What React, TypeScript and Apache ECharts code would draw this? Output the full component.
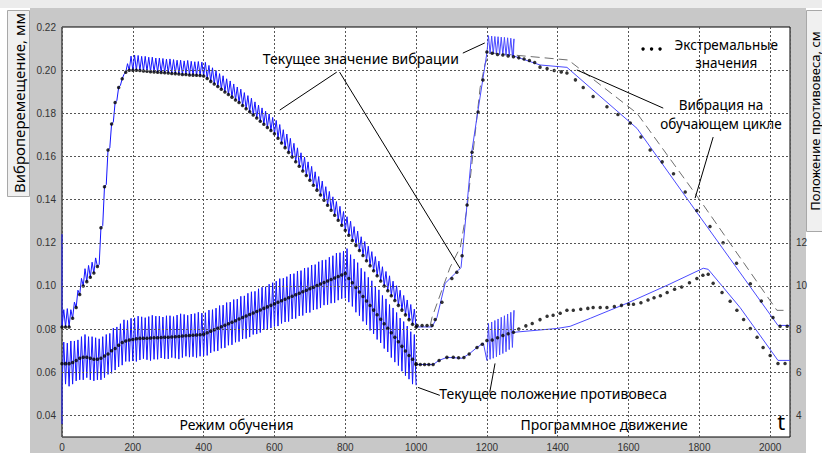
import React, { useEffect, useRef } from "react";
import * as echarts from "echarts";

// ---------- data ----------
const TRAIN_STEP = 10; // time step of one oscillation cycle in training mode
const X_MAX = 2056;

// training mode (0..1000): extreme (minimum) values of vibration, mm
const upperDots = [
  0.081, 0.081, 0.081, 0.085, 0.09, 0.096, 0.1, 0.102, 0.104, 0.106,
  0.109, 0.127, 0.146, 0.163, 0.175, 0.185, 0.192, 0.196, 0.199, 0.2,
  0.2, 0.2, 0.1998, 0.1996, 0.1995, 0.1993, 0.1992, 0.199, 0.1989, 0.1988,
  0.1987, 0.1985, 0.1984, 0.1982, 0.198, 0.198, 0.1978, 0.1977, 0.1976, 0.1975,
  0.1973, 0.1961, 0.1948, 0.1936, 0.1924, 0.1912, 0.1899, 0.1887, 0.1875, 0.1862,
  0.185, 0.1836, 0.1821, 0.1807, 0.1792, 0.1778, 0.1763, 0.1749, 0.1734, 0.172,
  0.1705, 0.1684, 0.1662, 0.1641, 0.1619, 0.1598, 0.1576, 0.1555, 0.1533, 0.1512,
  0.149, 0.1467, 0.1444, 0.1421, 0.1397, 0.1374, 0.1351, 0.1328, 0.1304, 0.1281,
  0.1258, 0.1235, 0.1211, 0.1188, 0.1164, 0.1141, 0.1117, 0.1094, 0.107, 0.1047,
  0.1023, 0.1, 0.0978, 0.0955, 0.0933, 0.091, 0.0888, 0.0866, 0.0844, 0.0822,
  0.081,
];
// peak-to-peak swing of each vibration cycle, mm
const upperSwing = [
  0.008, 0.0085, 0.008, 0.0075, 0.008, 0.0075, 0.008, 0.0075, 0.007, 0.007,
  0.001, 0.001, 0.001, 0.001, 0.001, 0.001, 0.001, 0.002, 0.004, 0.0065,
  0.007, 0.0068, 0.0066, 0.0068, 0.0065, 0.0067, 0.0064, 0.0066, 0.0065, 0.0063,
  0.0065, 0.0064, 0.0062, 0.0064, 0.0063, 0.0065, 0.0063, 0.0062, 0.0064, 0.0062,
  0.0063, 0.0061, 0.0063, 0.0062, 0.006, 0.0062, 0.0061, 0.0063, 0.0061, 0.006,
  0.0062, 0.006, 0.0061, 0.0063, 0.0061, 0.006, 0.0062, 0.0061, 0.0063, 0.0061,
  0.0062, 0.0064, 0.0062, 0.0063, 0.0065, 0.0063, 0.0064, 0.0062, 0.0064, 0.0063,
  0.0064, 0.0062, 0.0063, 0.0065, 0.0063, 0.0064, 0.0062, 0.0063, 0.0065, 0.0064,
  0.0063, 0.0065, 0.0064, 0.0066, 0.0064, 0.0065, 0.0067, 0.0065, 0.0066, 0.0068,
  0.0066, 0.0067, 0.0069, 0.0067, 0.0068, 0.007, 0.0068, 0.0069, 0.007, 0.0071,
];
const UPPER_START_SPIKE = 0.124;

// training mode: counterweight position (centre of oscillation), cm
const lowerDots = [
  6.4, 6.4, 6.4, 6.45, 6.55, 6.65, 6.7, 6.7, 6.65, 6.6,
  6.6, 6.65, 6.75, 6.85, 7.0, 7.1, 7.25, 7.38, 7.45, 7.5,
  7.52, 7.55, 7.57, 7.58, 7.58, 7.59, 7.6, 7.6, 7.61, 7.62,
  7.62, 7.63, 7.65, 7.66, 7.68, 7.69, 7.7, 7.72, 7.73, 7.74,
  7.76, 7.83, 7.9, 7.97, 8.04, 8.11, 8.18, 8.25, 8.32, 8.39,
  8.47, 8.54, 8.61, 8.68, 8.75, 8.82, 8.89, 8.96, 9.03, 9.1,
  9.17, 9.24, 9.31, 9.38, 9.45, 9.52, 9.59, 9.66, 9.73, 9.8,
  9.87, 9.94, 10.02, 10.09, 10.16, 10.23, 10.3, 10.37, 10.44, 10.51,
  10.58, 10.35, 10.15, 9.93, 9.72, 9.51, 9.3, 9.09, 8.88, 8.67,
  8.46, 8.25, 8.04, 7.83, 7.62, 7.41, 7.2, 6.99, 6.78, 6.6,
  6.4,
];
// half-swing of each counterweight oscillation, cm
const lowerSwing = [
  1.0, 0.95, 1.05, 1.0, 0.95, 1.0, 1.05, 0.95, 1.0, 1.0,
  0.95, 1.0, 1.0, 0.95, 1.05, 1.0, 1.0, 1.05, 0.95, 1.0,
  1.0, 1.05, 1.0, 0.95, 1.0, 1.05, 1.0, 1.0, 0.95, 1.0,
  1.0, 0.95, 1.0, 1.05, 1.0, 0.95, 1.0, 1.0, 1.05, 1.0,
  1.0, 1.05, 1.0, 1.0, 1.05, 1.0, 1.05, 1.0, 1.05, 1.0,
  1.05, 1.0, 1.05, 1.05, 1.0, 1.05, 1.05, 1.0, 1.05, 1.05,
  1.05, 1.1, 1.05, 1.05, 1.1, 1.05, 1.1, 1.05, 1.1, 1.05,
  1.1, 1.05, 1.1, 1.1, 1.05, 1.1, 1.1, 1.15, 1.1, 1.1,
  1.15, 1.1, 1.1, 1.15, 1.1, 1.15, 1.1, 1.15, 1.1, 1.15,
  1.1, 1.15, 1.1, 1.15, 1.15, 1.1, 1.15, 1.15, 1.1, 1.15,
];
const LOWER_START_SPIKE = 3.6;
const LOWER_END_SPIKE = 5.4;

// programmed motion (1000..2056)
const progUpperRise = [
  [1000, 0.081], [1045, 0.081], [1059, 0.0854], [1082, 0.1012], [1119, 0.1072],
  [1127, 0.1086], [1144, 0.138], [1158, 0.163], [1175, 0.1815], [1189, 0.1963],
];
const burstT = [1200, 1209, 1218, 1227, 1236, 1245, 1254, 1263, 1272];
const BURST_HALF = 4.5;
const upperBurstLow = [0.208, 0.2078, 0.2076, 0.2074, 0.2072, 0.207, 0.2068, 0.2066, 0.2064];
const upperBurstHigh = [0.216, 0.2158, 0.2156, 0.2155, 0.2153, 0.2152, 0.215, 0.2148, 0.2145];
const progUpperTail = [
  [1275, 0.2066], [1350, 0.2024], [1426, 0.2013], [1624, 0.173],
  [1802, 0.132], [2022, 0.0817], [2056, 0.0817],
];
const progUpperDots = [
  [1003, 0.0817], [1017, 0.0817], [1031, 0.0817], [1045, 0.0817], [1054, 0.0845],
  [1073, 0.0924], [1101, 0.1035], [1115, 0.1063], [1130, 0.114], [1144, 0.1375],
  [1158, 0.162], [1175, 0.1806], [1189, 0.1954], [1200, 0.2084], [1215, 0.2078],
  [1230, 0.2073], [1245, 0.207], [1260, 0.2066], [1275, 0.2062], [1290, 0.2057],
  [1305, 0.2052], [1320, 0.2045], [1335, 0.2035], [1350, 0.2014], [1370, 0.2008],
  [1390, 0.1998], [1410, 0.1992], [1426, 0.1987], [1450, 0.1955], [1472, 0.192],
  [1500, 0.1878], [1539, 0.183], [1570, 0.1795], [1605, 0.1755], [1635, 0.169],
  [1661, 0.163], [1695, 0.1575], [1727, 0.152], [1760, 0.1435], [1793, 0.135],
  [1830, 0.1275], [1867, 0.12], [1905, 0.1105], [1944, 0.101], [1975, 0.093],
  [2008, 0.0854], [2028, 0.0813], [2048, 0.0813],
];
// vibration recorded on the training cycle (dashed), mm
const trainingCycle = [
  [1040, 0.0817], [1045, 0.0854], [1096, 0.1086], [1125, 0.118], [1144, 0.136],
  [1165, 0.168], [1181, 0.192], [1195, 0.203], [1209, 0.208], [1430, 0.2047],
  [1624, 0.18], [1802, 0.1397], [2019, 0.0887], [2052, 0.0887],
];

const progLowerRise = [
  [1000, 6.36], [1048, 6.36], [1065, 6.55], [1087, 6.69], [1130, 6.65],
  [1150, 6.85], [1172, 7.15], [1190, 7.35],
];
const lowerBurstLow = [6.55, 6.6, 6.65, 6.72, 6.8, 6.87, 6.95, 7.05, 7.15];
const lowerBurstHigh = [8.26, 8.33, 8.4, 8.47, 8.55, 8.62, 8.7, 8.78, 8.87];
const progLowerTail = [
  [1275, 7.85], [1398, 8.03], [1435, 8.13], [1492, 8.5], [1596, 9.2],
  [1709, 10.03], [1811, 10.82], [1825, 10.77], [1915, 9.0], [2022, 6.55], [2056, 6.55],
];
const progLowerDots = [
  [1000, 6.36], [1012, 6.36], [1024, 6.36], [1036, 6.36], [1048, 6.36],
  [1065, 6.55], [1087, 6.69], [1105, 6.7], [1120, 6.67], [1135, 6.68],
  [1150, 6.85], [1172, 7.15], [1187, 7.3], [1200, 7.47], [1215, 7.5],
  [1230, 7.6], [1245, 7.7], [1260, 7.78], [1275, 7.85], [1290, 8.0],
  [1310, 8.15], [1328, 8.26], [1350, 8.44], [1370, 8.6], [1387, 8.64],
  [1407, 8.73], [1426, 8.87], [1444, 8.87], [1465, 8.92], [1485, 8.96],
  [1500, 9.0], [1520, 9.0], [1539, 9.0], [1560, 9.05], [1580, 9.1],
  [1600, 9.15], [1614, 9.15], [1635, 9.22], [1655, 9.35], [1672, 9.45],
  [1690, 9.55], [1709, 9.7], [1730, 9.85], [1750, 9.95], [1772, 10.15],
  [1793, 10.35], [1810, 10.5], [1825, 10.54], [1839, 10.12], [1864, 9.7],
  [1887, 9.29], [1906, 8.87], [1925, 8.45], [1944, 8.03], [1963, 7.62],
  [1980, 7.15], [2000, 6.78], [2022, 6.41], [2042, 6.41],
];

// axes
const Y_MIN = 0.03;
const Y_MAX = 0.22;
const yGrid = [0.04, 0.06, 0.08, 0.1, 0.12, 0.14, 0.16, 0.18, 0.2];

// annotations, in data units (t, mm)
const annotationLines = [
  [776, 0.1991, 615, 0.1815],
  [784, 0.1991, 1124, 0.1082],
  [1132, 0.2079, 1194, 0.2126],
  [1067, 0.0493, 1005, 0.053],
  [1208, 0.0507, 1223, 0.0641],
  [1698, 0.1824, 1454, 0.2001],
  [1839, 0.169, 1788, 0.1407],
];
const annotationTexts: [string, number, number, number][] = [
  ["Текущее значение вибрации", 844, 0.2056, 14],
  ["Текущее положение противовеса", 1387, 0.0502, 14],
  ["Экстремальные\nзначения", 1876, 0.2075, 13.5],
  ["Вибрация на\nобучающем цикле", 1861, 0.1794, 13.5],
  ["Режим обучения", 493, 0.0358, 14],
  ["Программное движение", 1531, 0.0358, 14],
  ["t", 2031, 0.0372, 22],
];
const legendDots = [1641, 1665, 1689];
const LEGEND_DOT_Y = 0.2098;

// ---------- build tables ----------
function buildUpperBand() {
  const d: number[][] = [[0, UPPER_START_SPIKE]];
  for (let i = 0; i < upperSwing.length; i++) {
    const t = i * TRAIN_STEP;
    d.push([t, upperDots[i]]);
    d.push([t + TRAIN_STEP / 2, upperDots[i] + upperSwing[i]]);
  }
  d.push([upperSwing.length * TRAIN_STEP, upperDots[upperDots.length - 1]]);
  return d;
}
function buildLowerBand() {
  const d: number[][] = [[0, LOWER_START_SPIKE]];
  for (let i = 0; i < lowerSwing.length; i++) {
    const t = i * TRAIN_STEP;
    d.push([t, lowerDots[i] - lowerSwing[i]]);
    d.push([t + TRAIN_STEP / 2, lowerDots[i] + lowerSwing[i]]);
  }
  d.push([lowerSwing.length * TRAIN_STEP, LOWER_END_SPIKE]);
  return d;
}
function buildProg(rise: number[][], lows: number[], highs: number[], tail: number[][]) {
  const d: number[][] = rise.map((p) => [p[0], p[1]]);
  burstT.forEach((t, i) => {
    d.push([t, lows[i]]);
    d.push([t + BURST_HALF, highs[i]]);
  });
  tail.forEach((p) => d.push([p[0], p[1]]));
  return d;
}
const trainDots = (arr: number[]) => arr.map((v, i) => [i * TRAIN_STEP, v]);

const FONT = '"Noto Sans", "DejaVu Sans", sans-serif';
const TICK_FONT = '"Liberation Sans", Arial, sans-serif';

export default function App() {
  const ref = useRef<HTMLDivElement>(null);
  useEffect(() => {
    if (!ref.current) return;
    const chart = echarts.init(ref.current, undefined, { renderer: "svg" });
    const option: any = {
      animation: false,
      backgroundColor: "#c8c8c8",
      grid: {
        left: 62,
        right: 32,
        top: 27,
        bottom: 16,
        show: true,
        backgroundColor: "#ffffff",
        borderColor: "#000000",
        borderWidth: 1,
      },
      xAxis: {
        type: "value",
        min: 0,
        max: X_MAX,
        interval: 200,
        axisLine: { show: false },
        axisTick: { show: false },
        axisLabel: {
          fontSize: 10,
          color: "#333",
          fontFamily: TICK_FONT,
          margin: 5,
          formatter: (v: number) => (Math.round(v) % 200 === 0 && v <= 2000 ? String(Math.round(v)) : ""),
        },
        splitLine: { show: true, lineStyle: { color: "#555", type: [2, 2], width: 1 } },
      },
      yAxis: [
        {
          type: "value",
          min: Y_MIN,
          max: Y_MAX,
          interval: 0.01,
          axisLine: { show: false },
          axisTick: { show: false },
          splitLine: { show: false },
          axisLabel: {
            fontSize: 10,
            color: "#333",
            fontFamily: TICK_FONT,
            margin: 6,
            formatter: (v: number) => {
              const k = Math.round(v * 100);
              return k % 2 === 0 && k >= 4 ? (k / 100).toFixed(2) : "";
            },
          },
        },
        {
          type: "value",
          min: Y_MIN * 100,
          max: Y_MAX * 100,
          interval: 1,
          position: "right",
          axisLine: { show: false },
          axisTick: { show: false },
          splitLine: { show: false },
          axisLabel: {
            fontSize: 10,
            color: "#333",
            fontFamily: TICK_FONT,
            margin: 6,
            formatter: (v: number) => {
              const k = Math.round(v);
              return k % 2 === 0 && k >= 4 && k <= 12 ? String(k) : "";
            },
          },
        },
      ],
      series: [
        {
          type: "line",
          data: [],
          silent: true,
          markLine: {
            silent: true,
            symbol: ["none", "none"],
            label: { show: false },
            lineStyle: { color: "#555", type: [2, 2], width: 1 },
            data: yGrid.map((v) => ({ yAxis: v })),
          },
        },
        {
          type: "line",
          data: trainingCycle,
          yAxisIndex: 0,
          showSymbol: false,
          symbol: "none",
          lineStyle: { color: "#6e6e6e", width: 1, type: [9, 5] },
          z: 3,
        },
        {
          type: "line",
          data: buildUpperBand(),
          yAxisIndex: 0,
          showSymbol: false,
          symbol: "none",
          lineStyle: { color: "#1414ff", width: 1 },
          z: 3,
        },
        {
          type: "line",
          data: buildLowerBand(),
          yAxisIndex: 1,
          showSymbol: false,
          symbol: "none",
          lineStyle: { color: "#1414ff", width: 1 },
          z: 3,
        },
        {
          type: "line",
          data: buildProg(progUpperRise, upperBurstLow, upperBurstHigh, progUpperTail),
          yAxisIndex: 0,
          showSymbol: false,
          symbol: "none",
          lineStyle: { color: "#4a4aff", width: 1 },
          z: 3,
        },
        {
          type: "line",
          data: buildProg(progLowerRise, lowerBurstLow, lowerBurstHigh, progLowerTail),
          yAxisIndex: 1,
          showSymbol: false,
          symbol: "none",
          lineStyle: { color: "#4a4aff", width: 1 },
          z: 3,
        },
        {
          type: "scatter",
          data: trainDots(upperDots).concat(progUpperDots),
          yAxisIndex: 0,
          symbol: "circle",
          symbolSize: 3.5,
          itemStyle: { color: "#000" },
          z: 4,
        },
        {
          type: "scatter",
          data: trainDots(lowerDots).concat(progLowerDots),
          yAxisIndex: 1,
          symbol: "circle",
          symbolSize: 3.5,
          itemStyle: { color: "#000" },
          z: 4,
        },
      ],
    };
    chart.setOption(option);

    const P = (x: number, y: number) => chart.convertToPixel({ gridIndex: 0 }, [x, y]) as number[];
    const graphics: any[] = [
      { type: "rect", shape: { x: 0, y: 0, width: 30, height: 453 }, style: { fill: "#ffffff" }, silent: true },
      { type: "rect", shape: { x: 806, y: 0, width: 16, height: 453 }, style: { fill: "#ffffff" }, silent: true },
      { type: "rect", shape: { x: 0, y: 0, width: 822, height: 8 }, style: { fill: "#ececec" }, silent: true },
      {
        type: "rect",
        shape: { x: 7.5, y: 10.5, width: 22, height: 186 },
        style: { fill: "#f0f0f0", stroke: "#a8a8a8", lineWidth: 1 },
        silent: true,
      },
      {
        type: "rect",
        shape: { x: 806.5, y: 10.5, width: 20, height: 221 },
        style: { fill: "#f0f0f0", stroke: "#a8a8a8", lineWidth: 1 },
        silent: true,
      },
      {
        type: "text",
        x: 19,
        y: 103,
        rotation: Math.PI / 2,
        style: {
          text: "Виброперемещение, мм",
          font: `15px ${FONT}`,
          fill: "#000",
          align: "center",
          verticalAlign: "middle",
          textAlign: "center",
          textVerticalAlign: "middle",
        },
        silent: true,
      },
      {
        type: "text",
        x: 814.5,
        y: 121,
        rotation: Math.PI / 2,
        style: {
          text: "Положение противовеса, см",
          font: `13px ${FONT}`,
          fill: "#000",
          align: "center",
          verticalAlign: "middle",
          textAlign: "center",
          textVerticalAlign: "middle",
        },
        silent: true,
      },
    ];
    annotationLines.forEach((l) => {
      const a = P(l[0], l[1]);
      const b = P(l[2], l[3]);
      graphics.push({
        type: "line",
        shape: { x1: a[0], y1: a[1], x2: b[0], y2: b[1] },
        style: { stroke: "#000", lineWidth: 1 },
        z: 100,
        silent: true,
      });
    });
    annotationTexts.forEach(([text, x, y, size]) => {
      const p = P(x, y);
      graphics.push({
        type: "text",
        x: p[0],
        y: p[1],
        z: 100,
        style: {
          text,
          font: `${size}px ${FONT}`,
          lineHeight: 18.5,
          fill: "#000",
          align: "center",
          verticalAlign: "middle",
          textAlign: "center",
          textVerticalAlign: "middle",
        },
        silent: true,
      });
    });
    legendDots.forEach((x) => {
      const p = P(x, LEGEND_DOT_Y);
      graphics.push({
        type: "circle",
        shape: { cx: p[0], cy: p[1], r: 1.7 },
        style: { fill: "#000" },
        z: 100,
        silent: true,
      });
    });
    chart.setOption({ graphic: graphics });

    return () => chart.dispose();
  }, []);

  return (
    <div
      ref={ref}
      style={{ position: "fixed", left: 0, top: 0, width: 822, height: 453 }}
    />
  );
}
